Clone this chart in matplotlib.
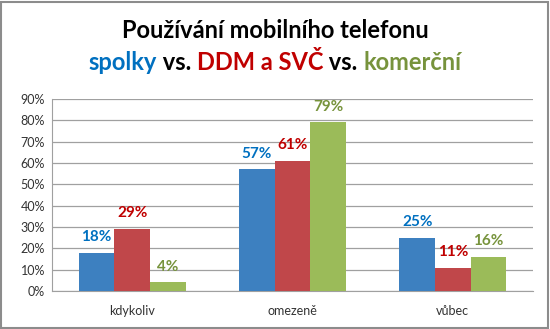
import numpy as np
import matplotlib
matplotlib.use("Agg")
import matplotlib.pyplot as plt
from matplotlib.patches import Rectangle

plt.rcParams['font.family'] = ['Lato', 'DejaVu Sans']

categories = ['kdykoliv', 'omezeně', 'vůbec']
spolky = [18, 57, 25]
ddm_svc = [29, 61, 11]
komercni = [4, 79, 16]
yticks = [0, 10, 20, 30, 40, 50, 60, 70, 80, 90]

bar_colors = ['#3D80C0', '#C0474A', '#9BBB59']
text_colors = ['#0070C0', '#C00000', '#77933C']

fig = plt.figure(figsize=(5.5, 3.29), dpi=100)
ax = fig.add_axes([52 / 550, 38 / 329, 481 / 550, 192 / 329])

x = np.arange(len(categories))
w = 0.222
for i, (vals, bc, tc) in enumerate(zip([spolky, ddm_svc, komercni], bar_colors, text_colors)):
    pos = x + (i - 1) * w
    ax.bar(pos, vals, width=w, color=bc, zorder=3)
    for px, v in zip(pos, vals):
        ax.annotate('%d%%' % v, (px, v), xytext=(0, 8.5), textcoords='offset points',
                    ha='center', va='baseline', color=tc, fontsize=11, fontweight='bold')

ax.set_xlim(-0.5, 2.5)
ax.set_ylim(0, 90)
ax.set_yticks(yticks)
ax.set_yticklabels(['%d%%' % t for t in yticks])
ax.set_xticks(x)
ax.set_xticklabels(categories)
ax.tick_params(axis='both', length=0, labelsize=9, colors='#333333')
ax.tick_params(axis='y', pad=5)
ax.tick_params(axis='x', pad=10)
ax.grid(axis='y', color='#A0A0A0', linewidth=0.9, zorder=0)
for s in ['top', 'right']:
    ax.spines[s].set_visible(False)
ax.spines['left'].set_color('#A0A0A0')
ax.spines['bottom'].set_color('#A0A0A0')

# title, second line built from coloured pieces
fig.text(0.5, 1 - 30 / 329, 'Používání mobilního telefonu', ha='center', va='center',
         fontsize=17, fontweight='bold', color='black')

pieces = [('spolky', '#0070C0'), (' vs. ', 'black'), ('DDM a SVČ', '#C00000'),
          (' vs. ', 'black'), ('komerční', '#77933C')]
fig.canvas.draw()
r = fig.canvas.get_renderer()
texts = []
for s, c in pieces:
    t = fig.text(0, 1 - 63 / 329, s, ha='left', va='center', fontsize=17,
                 fontweight='bold', color=c)
    texts.append(t)
widths = [t.get_window_extent(renderer=r).width for t in texts]
total = sum(widths)
xpos = (fig.bbox.width - total) / 2
for t, wd in zip(texts, widths):
    t.set_x(xpos / fig.bbox.width)
    xpos += wd

fig.patches.append(Rectangle((0.002, 0.003), 0.994, 0.992, transform=fig.transFigure,
                             fill=False, edgecolor='#8C8C8C', linewidth=1.5))

fig.savefig('out.png', dpi=100)
